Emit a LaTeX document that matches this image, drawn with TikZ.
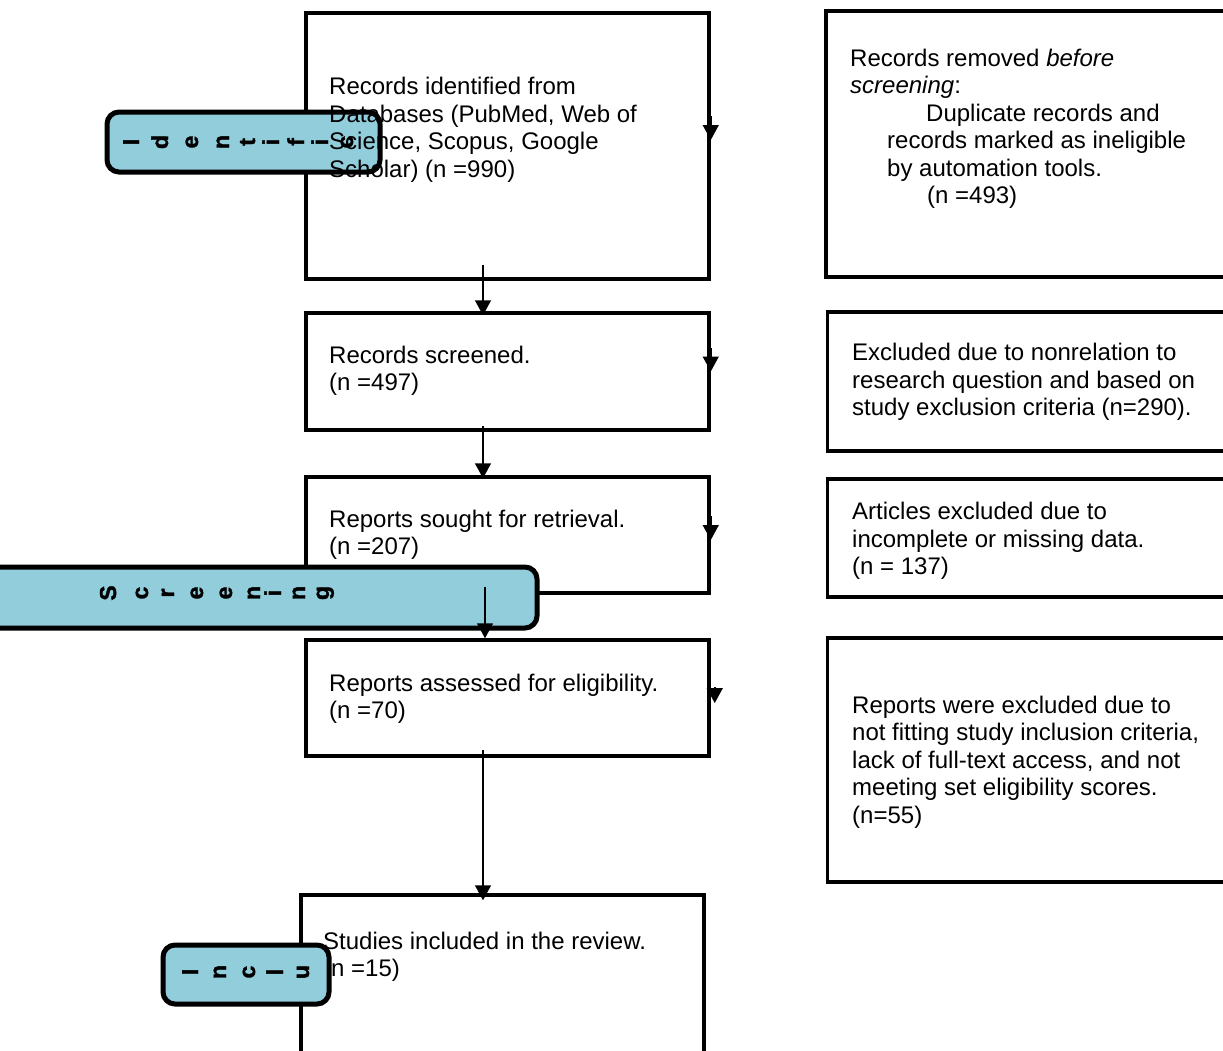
\documentclass[tikz,border=0pt]{standalone}
\usepackage{fontspec}
\setmainfont{Liberation Sans}
\newfontface\tabfont{Liberation Sans Bold}[FakeBold=1.5]
\usetikzlibrary{arrows.meta}
\definecolor{labblue}{RGB}{146,205,220}

\begin{document}
\begin{tikzpicture}[
    x=1pt, y=-1pt,
    font=\fontsize{24}{27.5}\selectfont,
    box/.style={draw=black, line width=3.5pt, minimum width=403pt},
    sidebox/.style={draw=black, line width=3.5pt, minimum width=434pt},
    txt/.style={anchor=west, align=left, inner sep=0pt},
    phase/.style={draw=black, line width=5pt, rounded corners=12pt, fill=labblue},
    letter/.style={font=\tabfont\fontsize{23}{23}\selectfont, rotate=90, inner sep=0pt,
                   text height=17pt, text depth=5pt},
    flow/.style={draw=black, line width=1.5pt, -{Triangle[width=16pt, length=15pt]}},
]

\useasboundingbox (0,0) rectangle (1223,1050);
\clip (0,0) rectangle (1223,1050);

% Main column
\node[box, minimum height=266pt] (rec)    at (507.5,146)  {};
\node[box, minimum height=117pt] (scr)    at (507.5,371.5) {};
\node[box, minimum height=116pt] (sought) at (507.5,535)  {};
\node[box, minimum height=116pt] (elig)   at (507.5,698)  {};
\node[box, minimum height=260pt] (incl)   at (502.5,1025) {};

% Exclusion column
\node[sidebox, minimum height=266pt] (removed) at (1043,144)    {};
\node[sidebox, minimum height=139pt] (excl)    at (1044.5,381.5) {};
\node[sidebox, minimum height=118pt] (missing) at (1044.5,538)  {};
\node[sidebox, minimum height=244pt] (notfit)  at (1044.5,760)  {};

% Identification tab
\node[phase, minimum width=273pt, minimum height=60pt] (ident) at (243.5,142) {};
\foreach \ch/\xx [count=\k] in {I/133, d/162, e/192, n/223, t/249, i/273, f/298, i/322, c/347}
    \node[letter] (idl\k) at (\xx,142) {\ch};

% Box texts
\node[txt] (rectxt) at (329,130)
    {Records identified from\\Databases (PubMed, Web of\\Science, Scopus, Google\\Scholar) (n =990)};
\node[txt] (scrtxt)    at (329,371)  {Records screened.\\(n =497)};
\node[txt] (soughttxt) at (329,535)  {Reports sought for retrieval.\\(n =207)};
\node[txt] (eligtxt)   at (329,699)  {Reports assessed for eligibility.\\(n =70)};

\node[txt] (removedtxt) at (850,129)
    {Records removed \textit{before}\\\textit{screening}:\\
     \hspace*{76pt}Duplicate records and\\
     \hspace*{37pt}records marked as ineligible\\
     \hspace*{37pt}by automation tools.\\
     \hspace*{77pt}(n =493)};
\node[txt] (excltxt) at (852,382)
    {Excluded due to nonrelation to\\research question and based on\\study exclusion criteria (n=290).};
\node[txt] (missingtxt) at (852,541)
    {Articles excluded due to\\incomplete or missing data.\\(n = 137)};
\node[txt] (notfittxt) at (852,762)
    {Reports were excluded due to\\not fitting study inclusion criteria,\\lack of full-text access, and not\\meeting set eligibility scores.\\(n=55)};

% Flow arrows
\draw[flow] ([xshift=-24.5pt]rec.south) ++(0,-16) -- ([xshift=-24.5pt, yshift=-4pt]scr.north);
\draw[flow] ([xshift=-24.5pt]scr.south) ++(0,-6) -- ([xshift=-24.5pt, yshift=-3pt]sought.north);

% Tips on the right edges
\draw[flow] (rec.east) ++(0,-30) -- ++(0,24);
\draw[flow] (scr.east) ++(0,-24) -- ++(0,24);
\draw[flow] (sought.east) ++(0,-19) -- ++(0,24);
\draw[flow] ([xshift=4pt]elig.east) ++(0,-11) -- ++(0,16);

% Screening tab
\node[phase, minimum width=557pt, minimum height=61pt] (screen) at (258.5,597.5) {};
\foreach \ch/\xx [count=\k] in {S/110, c/142, r/168, e/197, e/226, n/254, i/275, n/299, g/323}
    \node[letter] (scl\k) at (\xx,593) {\ch};
\draw[flow] ([xshift=-22.5pt]sought.south) ++(0,-8) -- ([xshift=-22.5pt, yshift=0pt]elig.north);

% Included
\node[txt] (incltxt) at (323,957) {Studies included in the review.\\(n =15)};
\node[phase, minimum width=166pt, minimum height=59pt] (inc) at (246,974.5) {};
\foreach \ch/\xx [count=\k] in {I/192, n/220, c/249, l/277, u/303}
    \node[letter] (inl\k) at (\xx,972) {\ch};
\draw[flow] ([xshift=-24.5pt]elig.south) ++(0,-8) -- ([xshift=-19.5pt, yshift=-7pt]incl.north);

\end{tikzpicture}
\end{document}
